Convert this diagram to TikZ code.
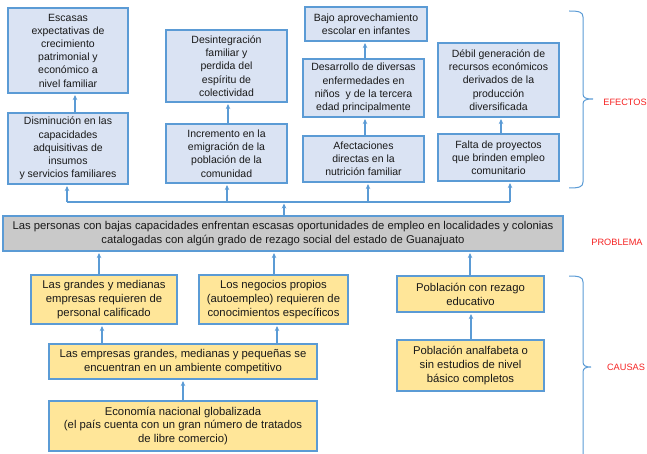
\documentclass[tikz,border=0pt]{standalone}
\usepackage{fontspec}
\setmainfont{Liberation Sans}
\usetikzlibrary{arrows.meta}
\definecolor{bl}{HTML}{5B9BD5}
\definecolor{effill}{HTML}{DAE3F3}
\definecolor{cafill}{HTML}{FFE699}
\definecolor{prfill}{HTML}{C9C9C9}
\definecolor{lab}{HTML}{F52222}
\tikzset{
  box/.style={draw=bl, line width=1.1pt, align=center, inner sep=0pt, text=black!90},
  eff/.style={box, fill=effill, font=\fontsize{10.5}{13.2}\selectfont},
  cau/.style={box, fill=cafill, font=\fontsize{11.3}{13.8}\selectfont},
  prob/.style={box, fill=prfill, font=\fontsize{11.3}{14}\selectfont},
  arr/.style={draw=bl, line width=1.2pt, -{Stealth[length=5pt,width=4.5pt]}, shorten >=1.5pt},
  ln/.style={draw=bl, line width=1.2pt},
  brc/.style={draw=bl, line width=1pt},
  lbl/.style={text=lab, font=\fontsize{9.2}{11}\selectfont, inner sep=0pt}
}
\begin{document}
\begin{tikzpicture}[x=1pt,y=-1pt]
\useasboundingbox (0,0) rectangle (647,454);
% effects
\node[eff, minimum width=120pt, minimum height=85pt] (e1) at (68,50.5) {Escasas\\expectativas de\\crecimiento\\patrimonial y\\económico a\\nivel familiar};
\node[eff, minimum width=120pt, minimum height=71pt] (e2) at (68,148.5) {Disminución en las\\capacidades\\adquisitivas de\\insumos\\y servicios familiares};
\node[eff, minimum width=121pt, minimum height=72pt] (e3) at (226.5,66) {Desintegración\\familiar y\\perdida del\\espíritu de\\colectividad};
\node[eff, minimum width=121pt, minimum height=59pt] (e4) at (226.5,153.5) {Incremento en la\\emigración de la\\población de la\\comunidad};
\node[eff, minimum width=122pt, minimum height=34pt] (e5) at (366,24) {Bajo aprovechamiento\\escolar en infantes};
\node[eff, minimum width=121pt, minimum height=58pt] (e6) at (363.5,88) {Desarrollo de diversas\\enfermedades en\\niños~ y de la tercera\\edad principalmente};
\node[eff, minimum width=121pt, minimum height=46pt] (e7) at (363.5,159) {Afectaciones\\directas en la\\nutrición familiar};
\node[eff, minimum width=121pt, minimum height=74pt] (e8) at (498.5,80) {Débil generación de\\recursos económicos\\derivados de la\\producción\\diversificada};
\node[eff, minimum width=121pt, minimum height=47pt] (e9) at (498.5,157.5) {Falta de proyectos\\que brinden empleo\\comunitario};
% problem
\node[prob, minimum width=560pt, minimum height=35pt] (p) at (283,233.5) {Las personas con bajas capacidades enfrentan escasas oportunidades de empleo en localidades y colonias\\catalogadas con algún grado de rezago social del estado de Guanajuato};
% causes
\node[cau, minimum width=146pt, minimum height=49pt] (c1) at (104,299.5) {Las grandes y medianas\\empresas requieren de\\personal calificado};
\node[cau, minimum width=149pt, minimum height=49pt] (c2) at (273.5,299.5) {Los negocios propios\\(autoempleo) requieren de\\conocimientos específicos};
\node[cau, minimum width=268pt, minimum height=35pt] (c3) at (183,361.5) {Las empresas grandes, medianas y pequeñas se\\encuentran en un ambiente competitivo};
\node[cau, minimum width=268pt, minimum height=50pt] (c4) at (183,426) {Economía nacional globalizada\\(el país cuenta con un gran número de tratados\\de libre comercio)};
\node[cau, minimum width=147pt, minimum height=36pt] (c5) at (470.5,294) {Población con rezago\\educativo};
\node[cau, minimum width=147pt, minimum height=51pt] (c6) at (470.5,365.5) {Población analfabeta o\\sin estudios de nivel\\básico completos};
% effect chain arrows
\coordinate (a1) at ([xshift=7pt]e2.north);
\draw[arr] (a1) -- (a1 |- e1.south);
\coordinate (a2) at ([xshift=1.5pt]e4.north);
\draw[arr] (a2) -- (a2 |- e3.south);
\coordinate (a3) at ([xshift=1.5pt]e6.north);
\draw[arr] (a3) -- (a3 |- e5.south);
\coordinate (a4) at ([xshift=1.5pt]e7.north);
\draw[arr] (a4) -- (a4 |- e6.south);
\coordinate (a5) at ([xshift=2.5pt]e9.north);
\draw[arr] (a5) -- (a5 |- e8.south);
% bus
\coordinate (b1) at (67,202);
\coordinate (b2) at (227,202);
\coordinate (b3) at (368,202);
\coordinate (b4) at (510,202);
\coordinate (pt) at ([xshift=1pt]p.north);
\draw[ln] (b1) -- (b4);
\draw[arr] (b1) -- (b1 |- e2.south);
\draw[arr] (b2) -- (b2 |- e4.south);
\draw[arr] (b3) -- (b3 |- e7.south);
\draw[arr] (b4) -- (b4 |- e9.south);
\draw[arr] (pt) -- (pt |- b1);
% cause arrows
\coordinate (k1) at ([xshift=-5pt]c1.north);
\draw[arr] (k1) -- (k1 |- p.south);
\coordinate (k2) at ([xshift=0.5pt]c2.north);
\draw[arr] (k2) -- (k2 |- p.south);
\coordinate (k3) at ([xshift=-0.5pt]c5.north);
\draw[arr] (k3) -- (k3 |- p.south);
\coordinate (k4) at (102,0 |- c3.north);
\draw[arr] (k4) -- (k4 |- c1.south);
\coordinate (k5) at (277,0 |- c3.north);
\draw[arr] (k5) -- (k5 |- c2.south);
\draw[arr] (c4.north) -- (c3.south);
\coordinate (k6) at ([xshift=0.5pt]c6.north);
\draw[arr] (k6) -- (k6 |- c5.south);
% braces
\draw[brc] (569,11) .. controls (579,11) and (583,12) .. (583,17) -- (583,94) .. controls (583,98) and (586,99) .. (593,99)
           (593,99) .. controls (586,99) and (583,100) .. (583,104) -- (583,182) .. controls (583,187) and (579,188) .. (569,188);
\draw[brc] (569,276) .. controls (579,276) and (583,277) .. (583,282) -- (583,362) .. controls (583,366) and (586,367) .. (591,367)
           (591,367) .. controls (586,367) and (583,368) .. (583,372) -- (583,460);
% labels
\node[lbl] (lef) at (625,102) {EFECTOS};
\node[lbl] (lpr) at (617,242) {PROBLEMA};
\node[lbl] (lca) at (626,367) {CAUSAS};
\end{tikzpicture}
\end{document}
